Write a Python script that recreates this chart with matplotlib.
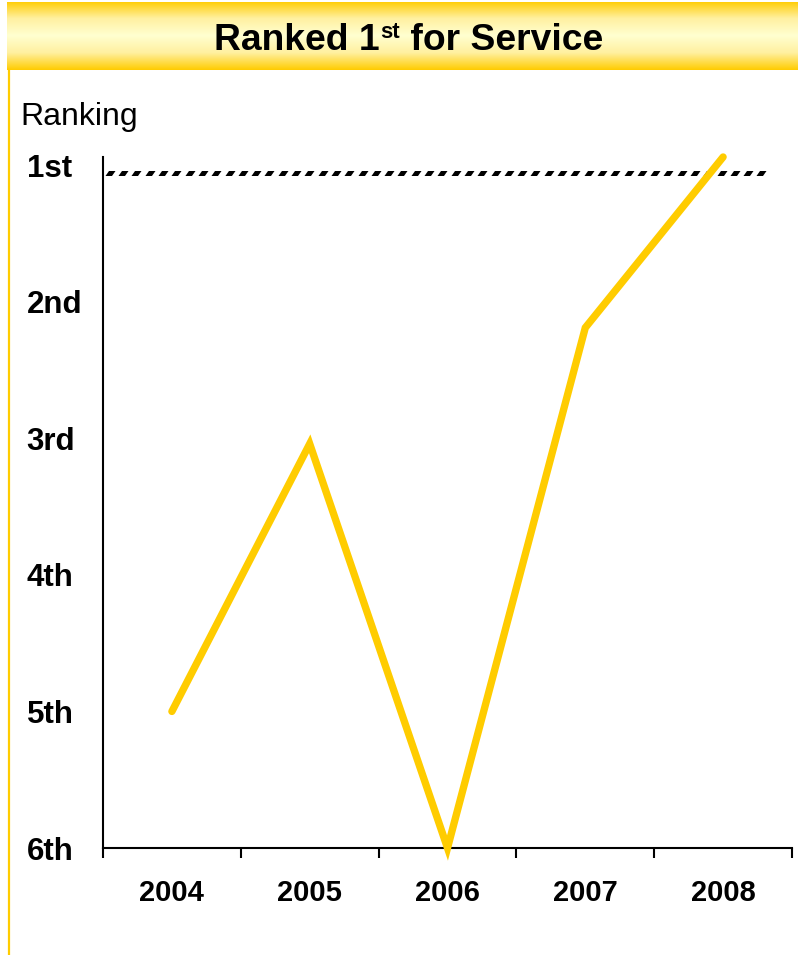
import numpy as np
import matplotlib
matplotlib.use('Agg')
import matplotlib.pyplot as plt
from matplotlib.colors import LinearSegmentedColormap
from matplotlib.lines import Line2D
from matplotlib.path import Path

years = ['2004', '2005', '2006', '2007', '2008']
ranking = [5.0, 3.04, 6.0, 2.19, 0.94]
rank_ticks = [1, 2, 3, 4, 5, 6]
rank_labels = ['1st', '2nd', '3rd', '4th', '5th', '6th']
target_rank = 1.055

plt.rcParams['font.family'] = ['Liberation Sans', 'DejaVu Sans']

W, H = 798, 955
fig = plt.figure(figsize=(W / 100, H / 100), dpi=100)
renderer = fig.canvas.get_renderer()

# title banner with gold gradient
ban = fig.add_axes([7 / W, (H - 70) / H, (W - 7) / W, 68 / H])
cmap = LinearSegmentedColormap.from_list(
    'gold', ['#FFCC00', '#FFF0A0', '#FFFFD0', '#FFF0A0', '#FFCC00'])
grad = np.linspace(0, 1, 256).reshape(-1, 1)
ban.imshow(grad, aspect='auto', cmap=cmap, extent=[0, 1, 0, 1])
ban.set_axis_off()

# title pieces: "Ranked 1" + superscript "st" + " for Service"
t1 = fig.text(214 / W, 1 - 50 / H, 'Ranked 1', ha='left', va='baseline',
              fontsize=26.8, fontweight='bold')
bb = t1.get_window_extent(renderer)
t2 = fig.text((bb.x1 + 1) / W, 1 - 38 / H, 'st', ha='left', va='baseline',
              fontsize=16, fontweight='bold')
bb = t2.get_window_extent(renderer)
fig.text(bb.x1 / W, 1 - 50 / H, ' for Service', ha='left', va='baseline',
         fontsize=26.8, fontweight='bold')

# left yellow border
fig.add_artist(Line2D([8.5 / W, 8.5 / W], [0, (H - 70) / H], color='#FFCC00', lw=1.6))

fig.text(20 / W, 1 - 125 / H, 'Ranking', ha='left', va='baseline', fontsize=23)

ax = fig.add_axes([103 / W, (H - 848) / H, (792 - 103) / W, (848 - 157) / H])
x = np.arange(len(years))
ax.plot(x, ranking, color='#FFCC00', lw=5.3, solid_capstyle='round',
        solid_joinstyle='miter', clip_on=False, zorder=3)

# target line drawn as slanted dashes
dash = Path([(-1, -0.5), (0.3, -0.5), (1, 0.5), (-0.3, 0.5), (-1, -0.5)],
            [Path.MOVETO, Path.LINETO, Path.LINETO, Path.LINETO, Path.CLOSEPOLY])
dash_x = np.arange(-0.45, 4.35, 0.0965)
ax.plot(dash_x, np.full_like(dash_x, target_rank), linestyle='none', marker=dash,
        markersize=7.2, color='black', markeredgewidth=0, zorder=2)

ax.set_xlim(-0.5, len(years) - 0.5)
ax.set_ylim(6, 0.94)

ax.set_xticks(np.arange(-0.5, len(years), 1.0))
ax.set_xticklabels([])
ax.set_xticks(x, minor=True)
ax.set_xticklabels(years, minor=True, fontsize=21, fontweight='bold')
ax.tick_params(axis='x', which='major', direction='out', length=7.5, width=1.5)
ax.tick_params(axis='x', which='minor', length=0, pad=22)

ax.set_yticks(rank_ticks)
ax.set_yticklabels(rank_labels, fontsize=22.5, fontweight='bold')
ax.tick_params(axis='y', length=0, pad=55)
for lab in ax.get_yticklabels():
    lab.set_horizontalalignment('left')

for s in ['top', 'right']:
    ax.spines[s].set_visible(False)
for s in ['left', 'bottom']:
    ax.spines[s].set_linewidth(1.5)

fig.savefig('out.png', dpi=100)
